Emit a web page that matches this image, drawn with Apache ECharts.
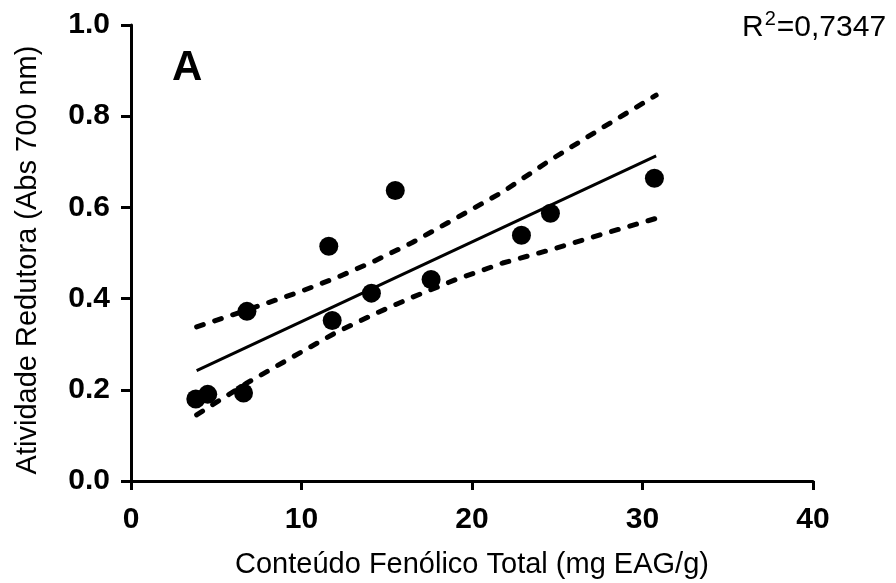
<!DOCTYPE html>
<html>
<head>
<meta charset="utf-8">
<script src="https://cdn.jsdelivr.net/npm/echarts@6/dist/echarts.min.js"></script>
<style>
html,body{margin:0;padding:0;background:#fff;}
#c{width:896px;height:583px;}
</style>
</head>
<body>
<div id="c"></div>
<script>
// Data
var pointX = [3.8, 4.5, 6.6, 6.8, 11.6, 11.8, 14.1, 15.5, 17.6, 22.9, 24.6, 30.7];
var pointY = [0.180, 0.190, 0.193, 0.372, 0.515, 0.352, 0.412, 0.637, 0.442, 0.539, 0.587, 0.664];

var fitX = [3.85, 30.8];
var fitY = [0.242, 0.713];

var bandX = [3.85, 6.8, 9.9, 12.0, 14.2, 16.5, 19.0, 21.8, 24.6, 27.7, 30.8];
var upperY = [0.338, 0.375, 0.415, 0.445, 0.481, 0.523, 0.575, 0.634, 0.704, 0.776, 0.846];
var lowerY = [0.145, 0.215, 0.281, 0.325, 0.365, 0.403, 0.441, 0.478, 0.507, 0.542, 0.576];

var xTicks = [0, 10, 20, 30, 40];
var yTicks = [0.0, 0.2, 0.4, 0.6, 0.8, 1.0];

var xTitle = 'Conteúdo Fenólico Total (mg EAG/g)';
var yTitle = 'Atividade Redutora (Abs 700 nm)';
var panelLabel = 'A';
var r2Text = '0,7347';

function zip(a, b) { return a.map(function (v, i) { return [v, b[i]]; }); }

var chart = echarts.init(document.getElementById('c'), null, {renderer: 'canvas'});
var font = 'Liberation Sans, Arial, sans-serif';
var dashStyle = {color: '#000', width: 5, type: [7, 12], cap: 'round', join: 'round'};

chart.setOption({
  animation: false,
  backgroundColor: '#fff',
  grid: {left: 131, right: 83, top: 25, bottom: 102, containLabel: false, outerBoundsMode: 'none'},
  title: [{
    text: '{r|R}{s|2}{r|=' + r2Text + '}',
    left: 737, top: 4,
    textStyle: {rich: {
      r: {fontFamily: font, fontSize: 30, fontWeight: 'normal', color: '#000', verticalAlign: 'bottom', lineHeight: 34},
      s: {fontFamily: font, fontSize: 20, fontWeight: 'normal', color: '#000', verticalAlign: 'top', lineHeight: 34, padding: [0, 1, 12, 1]}
    }}
  }, {
    text: panelLabel,
    left: 167, top: 42,
    textStyle: {fontFamily: font, fontSize: 42, fontWeight: 'bold', color: '#000'}
  }],
  xAxis: {
    type: 'value', min: xTicks[0], max: xTicks[xTicks.length - 1], interval: 10,
    name: xTitle, nameLocation: 'middle', nameGap: 69,
    nameTextStyle: {fontFamily: font, fontSize: 29, color: '#000'},
    axisLine: {show: true, lineStyle: {color: '#000', width: 3}},
    axisTick: {show: true, inside: false, length: 9, lineStyle: {color: '#000', width: 3}},
    axisLabel: {fontFamily: font, fontSize: 30, fontWeight: 'bold', color: '#000', margin: 24},
    splitLine: {show: false}
  },
  yAxis: {
    type: 'value', min: yTicks[0], max: yTicks[yTicks.length - 1], interval: 0.2,
    name: yTitle, nameLocation: 'middle', nameGap: 89,
    nameTextStyle: {fontFamily: font, fontSize: 29, color: '#000', padding: [0, 14, 0, 0]},
    axisLine: {show: true, onZero: false, lineStyle: {color: '#000', width: 3}},
    axisTick: {show: true, inside: false, length: 10, lineStyle: {color: '#000', width: 3}},
    axisLabel: {fontFamily: font, fontSize: 30, fontWeight: 'bold', color: '#000', margin: 21,
      formatter: function (v) { return v.toFixed(1); }},
    splitLine: {show: false}
  },
  series: [{
    type: 'line', data: zip(bandX, upperY), showSymbol: false, symbol: 'none',
    lineStyle: dashStyle, z: 2
  }, {
    type: 'line', data: zip(bandX, lowerY), showSymbol: false, symbol: 'none',
    lineStyle: dashStyle, z: 2
  }, {
    type: 'line', data: zip(fitX, fitY), showSymbol: false, symbol: 'none',
    lineStyle: {color: '#000', width: 3}, z: 3
  }, {
    type: 'scatter', data: zip(pointX, pointY), symbol: 'circle', symbolSize: 19,
    itemStyle: {color: '#000', opacity: 1}, z: 4
  }]
});
</script>
</body>
</html>
